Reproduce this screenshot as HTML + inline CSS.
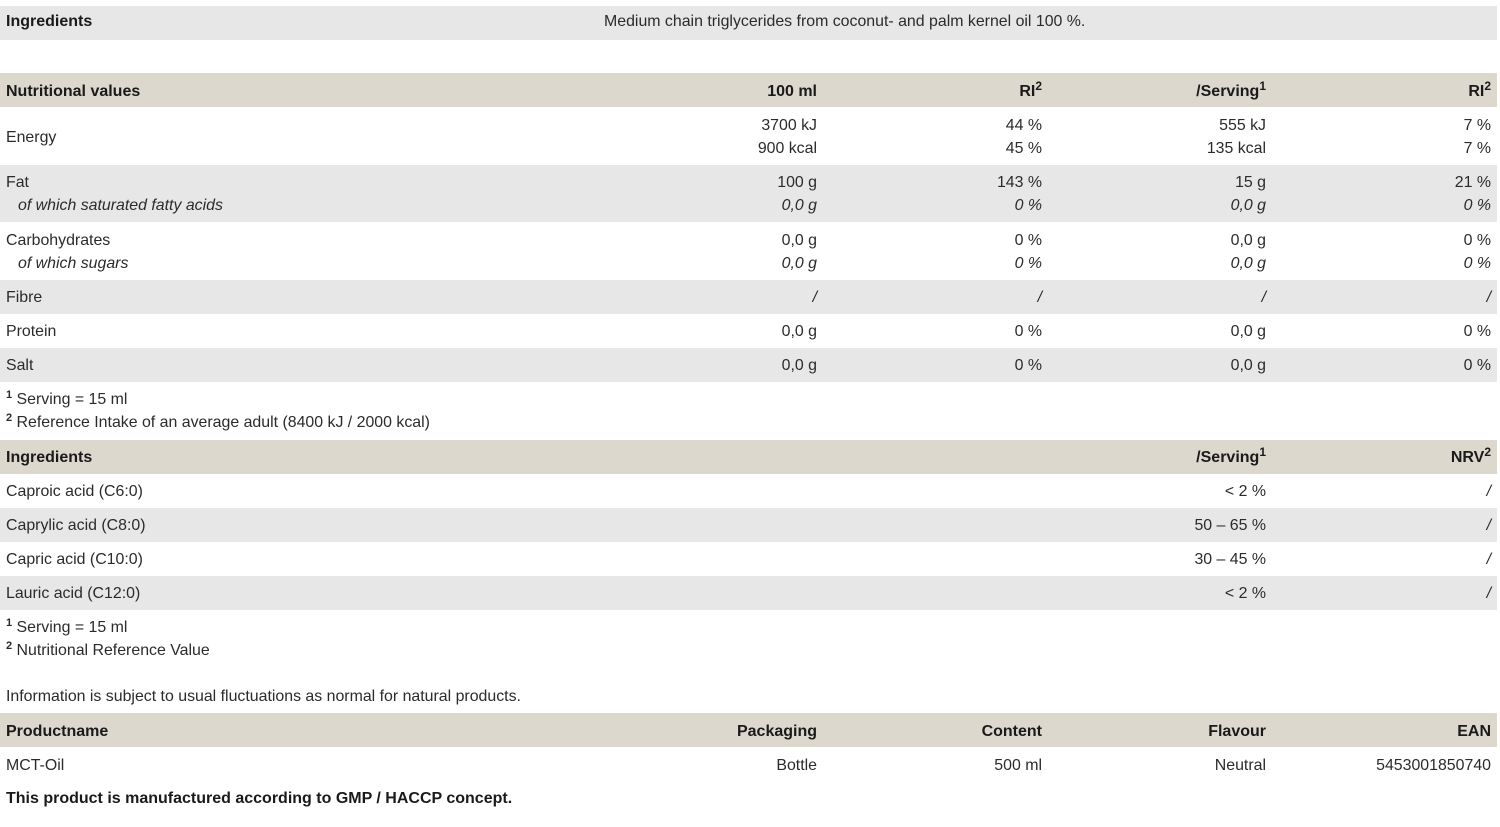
<!DOCTYPE html>
<html>
<head>
<meta charset="utf-8">
<style>
  html,body{margin:0;padding:0;background:#fff;}
  body{position:relative;width:1500px;height:827px;overflow:hidden;
       font-family:"Liberation Sans",Arial,sans-serif;font-size:15.9px;color:#2b2b2b;}
  .bar{position:absolute;left:0;width:1497px;}
  .g{background:#e7e7e7;}
  .b{background:#dcd8cd;}
  .t{position:absolute;line-height:22px;white-space:nowrap;margin-top:2px;}
  .r{text-align:right;}
  .c1{right:683px;}
  .c2{right:458px;}
  .c3{right:234px;}
  .c4{right:9px;}
  .L{left:6px;}
  .bold{font-weight:bold;color:#1a1a1a;font-size:16px;}
  .it{font-style:italic;}
  sup{font-size:12px;line-height:0;position:relative;top:0px;vertical-align:super;}
  .fn sup{font-weight:bold;font-size:11px;}
</style>
</head>
<body>

<!-- Ingredients row -->
<div class="bar g" style="top:6px;height:34px;"></div>
<div class="t L bold" style="top:9px;">Ingredients</div>
<div class="t" style="top:9px;left:604px;">Medium chain triglycerides from coconut- and palm kernel oil 100 %.</div>

<!-- Nutritional header -->
<div class="bar b" style="top:73px;height:34px;"></div>
<div class="t L bold" style="top:79px;">Nutritional values</div>
<div class="t r c1 bold" style="top:79px;">100 ml</div>
<div class="t r c2 bold" style="top:79px;">RI<sup>2</sup></div>
<div class="t r c3 bold" style="top:79px;">/Serving<sup>1</sup></div>
<div class="t r c4 bold" style="top:79px;">RI<sup>2</sup></div>

<!-- Energy -->
<div class="t L" style="top:125px;">Energy</div>
<div class="t r c1" style="top:113px;">3700 kJ</div>
<div class="t r c1" style="top:136px;">900 kcal</div>
<div class="t r c2" style="top:113px;">44 %</div>
<div class="t r c2" style="top:136px;">45 %</div>
<div class="t r c3" style="top:113px;">555 kJ</div>
<div class="t r c3" style="top:136px;">135 kcal</div>
<div class="t r c4" style="top:113px;">7 %</div>
<div class="t r c4" style="top:136px;">7 %</div>

<!-- Fat -->
<div class="bar g" style="top:165px;height:57px;"></div>
<div class="t L" style="top:170px;">Fat</div>
<div class="t it" style="top:193px;left:18px;">of which saturated fatty acids</div>
<div class="t r c1" style="top:170px;">100 g</div>
<div class="t r c1 it" style="top:193px;">0,0 g</div>
<div class="t r c2" style="top:170px;">143 %</div>
<div class="t r c2 it" style="top:193px;">0 %</div>
<div class="t r c3" style="top:170px;">15 g</div>
<div class="t r c3 it" style="top:193px;">0,0 g</div>
<div class="t r c4" style="top:170px;">21 %</div>
<div class="t r c4 it" style="top:193px;">0 %</div>

<!-- Carbohydrates -->
<div class="t L" style="top:228px;">Carbohydrates</div>
<div class="t it" style="top:251px;left:18px;">of which sugars</div>
<div class="t r c1" style="top:228px;">0,0 g</div>
<div class="t r c1 it" style="top:251px;">0,0 g</div>
<div class="t r c2" style="top:228px;">0 %</div>
<div class="t r c2 it" style="top:251px;">0 %</div>
<div class="t r c3" style="top:228px;">0,0 g</div>
<div class="t r c3 it" style="top:251px;">0,0 g</div>
<div class="t r c4" style="top:228px;">0 %</div>
<div class="t r c4 it" style="top:251px;">0 %</div>

<!-- Fibre -->
<div class="bar g" style="top:280px;height:34px;"></div>
<div class="t L" style="top:285px;">Fibre</div>
<div class="t r c1 it" style="top:285px;">/</div>
<div class="t r c2 it" style="top:285px;">/</div>
<div class="t r c3 it" style="top:285px;">/</div>
<div class="t r c4 it" style="top:285px;">/</div>

<!-- Protein -->
<div class="t L" style="top:319px;">Protein</div>
<div class="t r c1" style="top:319px;">0,0 g</div>
<div class="t r c2" style="top:319px;">0 %</div>
<div class="t r c3" style="top:319px;">0,0 g</div>
<div class="t r c4" style="top:319px;">0 %</div>

<!-- Salt -->
<div class="bar g" style="top:348px;height:34px;"></div>
<div class="t L" style="top:353px;">Salt</div>
<div class="t r c1" style="top:353px;">0,0 g</div>
<div class="t r c2" style="top:353px;">0 %</div>
<div class="t r c3" style="top:353px;">0,0 g</div>
<div class="t r c4" style="top:353px;">0 %</div>

<!-- Footnotes 1 -->
<div class="t L fn" style="top:387px;"><sup>1</sup> Serving = 15 ml</div>
<div class="t L fn" style="top:410px;"><sup>2</sup> Reference Intake of an average adult (8400 kJ / 2000 kcal)</div>

<!-- Ingredients header -->
<div class="bar b" style="top:440px;height:34px;"></div>
<div class="t L bold" style="top:445px;">Ingredients</div>
<div class="t r c3 bold" style="top:445px;">/Serving<sup>1</sup></div>
<div class="t r c4 bold" style="top:445px;">NRV<sup>2</sup></div>

<div class="t L" style="top:479px;">Caproic acid (C6:0)</div>
<div class="t r c3" style="top:479px;">&lt; 2 %</div>
<div class="t r c4 it" style="top:479px;">/</div>

<div class="bar g" style="top:508px;height:34px;"></div>
<div class="t L" style="top:513px;">Caprylic acid (C8:0)</div>
<div class="t r c3" style="top:513px;">50 – 65 %</div>
<div class="t r c4 it" style="top:513px;">/</div>

<div class="t L" style="top:547px;">Capric acid (C10:0)</div>
<div class="t r c3" style="top:547px;">30 – 45 %</div>
<div class="t r c4 it" style="top:547px;">/</div>

<div class="bar g" style="top:576px;height:34px;"></div>
<div class="t L" style="top:581px;">Lauric acid (C12:0)</div>
<div class="t r c3" style="top:581px;">&lt; 2 %</div>
<div class="t r c4 it" style="top:581px;">/</div>

<!-- Footnotes 2 -->
<div class="t L fn" style="top:615px;"><sup>1</sup> Serving = 15 ml</div>
<div class="t L fn" style="top:638px;"><sup>2</sup> Nutritional Reference Value</div>

<div class="t L" style="top:684px;">Information is subject to usual fluctuations as normal for natural products.</div>

<!-- Product header -->
<div class="bar b" style="top:713px;height:34px;"></div>
<div class="t L bold" style="top:719px;">Productname</div>
<div class="t r c1 bold" style="top:719px;">Packaging</div>
<div class="t r c2 bold" style="top:719px;">Content</div>
<div class="t r c3 bold" style="top:719px;">Flavour</div>
<div class="t r c4 bold" style="top:719px;">EAN</div>

<div class="t L" style="top:753px;">MCT-Oil</div>
<div class="t r c1" style="top:753px;">Bottle</div>
<div class="t r c2" style="top:753px;">500 ml</div>
<div class="t r c3" style="top:753px;">Neutral</div>
<div class="t r c4" style="top:753px;">5453001850740</div>

<div class="t L bold" style="top:786px;">This product is manufactured according to GMP / HACCP concept.</div>

</body>
</html>
